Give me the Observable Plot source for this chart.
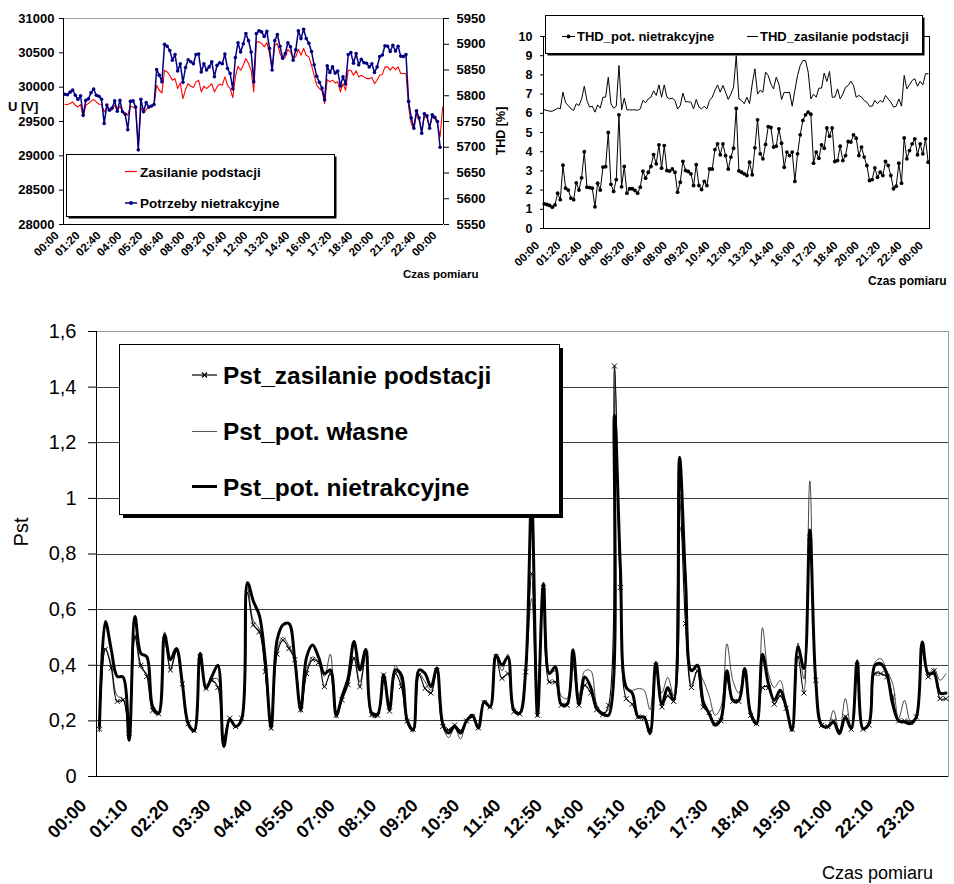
<!DOCTYPE html>
<html><head><meta charset="utf-8">
<script src="https://cdn.jsdelivr.net/npm/d3@7"></script>
<script src="https://cdn.jsdelivr.net/npm/@observablehq/plot@0.6"></script>
<style>
body{margin:0;background:#fff;}
#root{position:relative;width:954px;height:884px;overflow:hidden;background:#fff;font-family:"Liberation Sans",Arial,sans-serif;}
.panel{position:absolute;}
.panel svg{display:block;}
</style></head><body><div id="root"></div>
<script>
const FONT = '"Liberation Sans", Arial, sans-serif';

// ---------- tick labels ----------
const topTickLabels = ["00:00","01:20","02:40","04:00","05:20","06:40","08:00","09:20","10:40","12:00","13:20","14:40","16:00","17:20","18:40","20:00","21:20","22:40","00:00"];
const botTickLabels = ["00:00","01:10","02:20","03:30","04:40","05:50","07:00","08:10","09:20","10:30","11:40","12:50","14:00","15:10","16:20","17:30","18:40","19:50","21:00","22:10","23:20"];
const leftTicks = [28000,28500,29000,29500,30000,30500,31000];
const rightTicks = [5550,5600,5650,5700,5750,5800,5850,5900,5950];
const thdTicks = [0,1,2,3,4,5,6,7,8,9,10];
const pstTicks = [0,0.2,0.4,0.6,0.8,1,1.2,1.4,1.6];

// ---------- top-left: napięcie U [V], co 10 min ----------
const zasilanieU = [
29751,29746,29761,29785,29736,29712,29746,29566,29736,29761,
29800,29819,29785,29751,29751,29639,29702,29664,29673,29736,
29654,29722,29639,29625,29591,29722,29712,29688,29129,29702,
29625,29673,29712,29712,29736,30028,29955,29916,30247,30222,
30174,30101,30125,29979,30062,29834,29965,30052,30013,29994,
30077,30101,29931,30013,29979,30013,30052,29931,30004,30043,
30028,30150,30028,29979,29848,30150,30305,30247,30320,30417,
30344,30247,29931,
30660,30660,30636,30587,30650,30490,30247,30611,30636,30490,
30402,30441,30548,30514,30417,30441,30548,30465,30563,30465,
30441,30320,30174,30028,29979,29945,29761,30111,30077,30101,
30062,30077,29931,30052,29955,30247,30247,30174,30237,30150,
30174,30150,30125,30125,30140,30052,30101,30174,30188,30295,
30295,30247,30295,30256,30295,30198,30198,30198,29712,29469,
29382,29615,29518,29372,29566,29557,29420,29566,29542,29469,
29275,29712];
const potrzebyU = [
5803,5802,5807,5811,5801,5793,5800,5762,5791,5794,
5806,5813,5801,5799,5793,5746,5782,5772,5776,5790,
5770,5791,5769,5764,5734,5789,5790,5778,5695,5793,
5769,5787,5778,5780,5783,5851,5840,5827,5900,5896,
5888,5869,5880,5848,5862,5826,5855,5870,5866,5862,
5880,5881,5846,5862,5850,5856,5866,5837,5859,5864,
5862,5881,5853,5843,5813,5874,5903,5885,5901,5921,
5907,5885,5827,
5921,5926,5924,5915,5925,5892,5850,5907,5919,5896,
5873,5882,5903,5895,5869,5889,5926,5911,5929,5911,
5902,5886,5860,5838,5826,5815,5792,5858,5845,5856,
5844,5848,5819,5837,5823,5880,5884,5863,5882,5860,
5871,5864,5863,5856,5862,5845,5856,5876,5879,5897,
5896,5886,5898,5887,5896,5877,5876,5880,5789,5757,
5737,5771,5757,5727,5765,5761,5737,5763,5758,5750,
5700,null];

// ---------- top-right: THD [%] ----------
const thdNietrakcyjne = [
1.28,1.25,1.2,1.11,1.23,1.84,1.5,3.3,2.1,2.0,
1.58,1.5,2.38,2.0,2.64,4.0,2.15,2.13,2.1,1.13,
2.36,2.0,3.2,3.22,5.0,2.3,1.93,2.55,5.92,2.17,
3.23,1.84,2.07,2.07,1.98,1.84,2.15,2.99,2.62,2.93,
3.23,3.85,3.37,4.36,3.14,4.32,3.02,2.99,3.1,2.93,
1.89,2.41,3.5,3.02,2.97,2.85,2.24,3.32,2.24,2.03,
2.45,2.24,3.1,3.1,4.11,4.41,3.84,4.41,3.8,3.1,
3.72,4.18,6.25,
3.0,2.93,2.85,2.76,3.45,2.8,4.2,5.66,3.89,3.63,
4.38,5.31,5.26,4.24,4.29,5.19,4.44,3.19,3.98,3.8,
3.98,2.45,3.89,4.88,5.63,5.92,6.06,5.95,3.4,3.98,
3.66,4.36,4.18,5.24,4.81,5.24,3.49,3.54,4.29,3.54,
3.8,4.53,4.5,4.88,4.7,3.8,4.24,3.72,3.28,2.5,
2.55,3.16,2.67,2.93,2.76,3.49,3.28,2.76,2.07,2.2,
3.4,2.36,4.72,3.63,4.06,4.41,4.67,3.84,4.41,3.89,
4.67,3.45];
const thdZasilanie = [
6.18,6.15,6.11,6.11,6.18,6.27,6.23,7.1,6.55,6.4,
6.23,6.15,6.5,6.4,6.75,7.41,6.67,6.32,6.37,6.06,
6.44,6.27,6.84,6.84,7.88,6.5,6.27,6.37,8.49,6.18,
6.79,6.18,6.18,6.18,6.18,6.15,6.23,6.67,6.55,6.75,
6.84,7.17,6.93,7.48,6.84,7.48,6.84,6.75,6.79,6.67,
6.23,6.4,7.05,6.6,6.6,6.58,6.23,6.72,6.32,6.23,
6.37,6.23,6.67,6.84,7.19,7.48,7.1,7.45,7.1,6.72,
7.0,7.36,9.0,
6.75,6.67,6.5,6.84,6.5,7.53,8.32,7.0,7.2,7.1,
8.14,7.97,7.53,7.27,7.88,7.53,6.72,7.1,7.07,7.1,
6.37,7.2,7.97,8.49,8.75,8.75,8.14,6.75,7.0,6.84,
7.31,7.31,8.1,7.66,8.18,6.84,6.84,7.27,6.75,7.0,
7.36,7.45,7.67,7.45,6.84,6.93,6.84,6.67,6.58,6.37,
6.37,6.67,6.5,6.67,6.58,6.93,6.75,6.58,6.32,6.37,
6.75,6.37,7.97,7.27,7.48,7.71,7.8,7.41,7.66,7.48,
8.06,8.06];

// ---------- bottom: Pst ----------
const pstZasilanie = [
0.17,0.457,0.39,0.27,0.275,0.155,0.50,0.40,0.36,0.237,
0.225,0.49,0.383,0.45,0.333,0.19,0.165,0.43,0.317,0.345,
0.32,0.14,0.21,0.18,0.21,0.66,0.545,0.52,0.377,0.174,
0.44,0.49,0.46,0.42,0.24,0.37,0.42,0.41,0.323,0.37,
0.22,0.275,0.33,0.425,0.323,0.44,0.222,0.22,0.365,0.235,
0.37,0.323,0.2,0.17,0.365,0.317,0.30,0.38,0.18,0.168,
0.185,0.165,0.2,0.215,0.175,0.265,0.25,0.43,0.353,0.37,
0.233,0.225,0.376,0.73,0.22,0.68,0.34,0.34,0.256,0.256,
0.40,0.256,0.328,0.30,0.24,0.222,0.256,1.476,0.68,0.28,
0.26,0.214,0.21,0.17,0.40,0.25,0.29,0.27,1.006,0.55,
0.32,0.38,0.25,0.23,0.19,0.2,0.35,0.27,0.27,0.37,
0.22,0.19,0.32,0.32,0.26,0.29,0.245,0.17,0.43,0.30,
0.86,0.346,0.184,0.18,0.2,0.165,0.215,0.17,0.40,0.17,
0.185,0.37,0.37,0.358,0.286,0.2,0.2,0.195,0.214,0.45,
0.358,0.38,0.28,0.28];
const pstWlasne = [
0.16,0.46,0.40,0.29,0.28,0.14,0.51,0.39,0.37,0.245,
0.23,0.52,0.39,0.45,0.33,0.18,0.16,0.44,0.33,0.35,
0.35,0.12,0.2,0.18,0.2,0.68,0.56,0.53,0.38,0.17,
0.45,0.50,0.47,0.42,0.23,0.38,0.43,0.41,0.36,0.44,
0.21,0.28,0.34,0.43,0.34,0.44,0.215,0.215,0.37,0.24,
0.40,0.34,0.19,0.16,0.37,0.34,0.31,0.38,0.18,0.14,
0.175,0.135,0.2,0.215,0.175,0.265,0.25,0.43,0.38,0.44,
0.23,0.225,0.37,0.64,0.22,0.68,0.37,0.38,0.29,0.28,
0.43,0.29,0.38,0.38,0.26,0.23,0.24,1.476,0.66,0.32,
0.31,0.316,0.31,0.24,0.40,0.30,0.357,0.29,0.90,0.74,
0.33,0.38,0.345,0.29,0.22,0.25,0.477,0.345,0.30,0.38,
0.24,0.2,0.535,0.37,0.32,0.345,0.25,0.17,0.48,0.35,
1.063,0.34,0.19,0.18,0.238,0.16,0.28,0.17,0.40,0.17,
0.19,0.41,0.424,0.38,0.334,0.208,0.274,0.2,0.22,0.47,
0.37,0.388,0.346,0.37];
const pstNietrakcyjne = [
0.18,0.557,0.455,0.36,0.357,0.13,0.575,0.443,0.43,0.25,
0.228,0.51,0.42,0.46,0.335,0.19,0.165,0.443,0.317,0.36,
0.40,0.108,0.206,0.18,0.204,0.697,0.63,0.58,0.42,0.174,
0.49,0.545,0.55,0.42,0.24,0.43,0.473,0.43,0.37,0.383,
0.22,0.29,0.353,0.485,0.383,0.457,0.228,0.225,0.365,0.24,
0.383,0.365,0.2,0.168,0.383,0.37,0.323,0.39,0.19,0.156,
0.18,0.156,0.2,0.22,0.174,0.27,0.25,0.437,0.40,0.43,
0.24,0.228,0.38,1.0,0.22,0.694,0.37,0.394,0.26,0.26,
0.456,0.26,0.358,0.32,0.244,0.226,0.22,1.30,0.75,0.32,
0.30,0.214,0.214,0.154,0.41,0.26,0.32,0.274,1.148,0.706,
0.38,0.40,0.268,0.226,0.184,0.208,0.38,0.274,0.274,0.388,
0.226,0.19,0.44,0.334,0.274,0.31,0.25,0.166,0.466,0.388,
0.886,0.346,0.184,0.178,0.196,0.154,0.214,0.172,0.415,0.172,
0.19,0.40,0.406,0.37,0.26,0.2,0.196,0.19,0.214,0.484,
0.37,0.37,0.30,0.30];

// ---------- helpers ----------
const root = document.getElementById("root");
function place(node, left, top, z) {
  const d = document.createElement("div");
  d.className = "panel";
  d.style.left = left + "px"; d.style.top = top + "px";
  if (z) d.style.zIndex = z;
  d.appendChild(node);
  root.appendChild(d);
}
const baseStyle = {fontFamily: FONT, color: "#000", background: "transparent", overflow: "visible"};
const X = (d, i) => i;
const Y = d => d;
const topTickIdx = topTickLabels.map((_, k) => k * 8);
const botTickIdx = botTickLabels.map((_, k) => k * 7);

// ---------- top-left: red on left axis ----------
const tl1 = Plot.plot({
  width: 480, height: 290, marginLeft: 63, marginRight: 37, marginTop: 18, marginBottom: 66,
  style: baseStyle,
  x: {domain: [-0.5, 144.3]},
  y: {domain: [28000, 31000]},
  marks: [
    Plot.ruleY([31000], {stroke: "#a0a0a0"}),
    Plot.ruleY([28000], {stroke: "#000"}),
    Plot.ruleX([-0.5], {stroke: "#000"}),
    Plot.axisY({ticks: leftTicks, tickSize: 4, tickPadding: 5, tickFormat: d => String(d), fontSize: 13, fontWeight: "bold", label: null}),
    Plot.axisX({ticks: topTickIdx, tickFormat: d => topTickLabels[d / 8], tickRotate: -45, tickSize: 0, tickPadding: 9, dx: -8, fontSize: 11.5, fontWeight: "bold", label: null}),
    Plot.line(zasilanieU, {x: X, y: Y, stroke: "#ff0000", strokeWidth: 1.1})
  ]
});
place(tl1, 0, 0, 1);

// ---------- top-left: blue on right axis ----------
const tl2 = Plot.plot({
  width: 480, height: 290, marginLeft: 63, marginRight: 37, marginTop: 18, marginBottom: 66,
  style: baseStyle,
  x: {domain: [-0.5, 144.3], axis: null},
  y: {domain: [5550, 5950]},
  marks: [
    Plot.ruleX([144.3], {stroke: "#000"}),
    Plot.axisY({anchor: "right", ticks: rightTicks, tickSize: 5, tickPadding: 8, tickFormat: d => String(d), fontSize: 13, fontWeight: "bold", label: null}),
    Plot.line(potrzebyU, {x: X, y: Y, stroke: "#000080", strokeWidth: 1.5}),
    Plot.dot(potrzebyU, {x: X, y: Y, r: 1.8, fill: "#000080", stroke: "none"})
  ]
});
place(tl2, 0, 0, 2);

// ---------- top-right: THD ----------
const tr = Plot.plot({
  width: 474, height: 290, marginLeft: 63, marginRight: 25, marginTop: 36, marginBottom: 62,
  style: baseStyle,
  x: {domain: [-0.3, 144.5]},
  y: {domain: [0, 10]},
  marks: [
    Plot.frame({stroke: "#000"}),
    Plot.axisY({ticks: thdTicks, tickSize: 3, tickPadding: 8, fontSize: 12.5, fontWeight: "bold", label: null}),
    Plot.axisX({ticks: topTickIdx, tickFormat: d => topTickLabels[d / 8], tickRotate: -45, tickSize: 0, tickPadding: 15, dx: -7, fontSize: 11.5, fontWeight: "bold", label: null}),
    Plot.line(thdZasilanie, {x: X, y: Y, stroke: "#000", strokeWidth: 1}),
    Plot.line(thdNietrakcyjne, {x: X, y: Y, stroke: "#000", strokeWidth: 1}),
    Plot.dot(thdNietrakcyjne, {x: X, y: Y, r: 1.9, fill: "#000", stroke: "none"})
  ]
});
place(tr, 480, 0, 1);

// ---------- bottom: Pst ----------
const pstFmt = d => String(+d.toFixed(1)).replace(".", ",");
const bot = Plot.plot({
  width: 954, height: 584, marginLeft: 96, marginRight: 6, marginTop: 31, marginBottom: 108,
  style: baseStyle,
  x: {domain: [-0.5, 143.43]},
  y: {domain: [0, 1.6]},
  marks: [
    Plot.ruleY(pstTicks.filter(d => d > 0 && d < 1.6), {stroke: "#3c3c3c", shapeRendering: "crispEdges"}),
    Plot.frame({stroke: "#9a9a9a", shapeRendering: "crispEdges"}),
    Plot.ruleX([-0.5], {stroke: "#000", shapeRendering: "crispEdges"}),
    Plot.ruleY([0], {stroke: "#000", shapeRendering: "crispEdges"}),
    Plot.axisY({ticks: pstTicks, tickSize: 8, tickPadding: 12, tickFormat: pstFmt, fontSize: 20, label: null}),
    Plot.axisX({ticks: botTickIdx, tickFormat: d => botTickLabels[d / 7], tickRotate: -45, tickSize: 0, tickPadding: 26, dx: -16, fontSize: 18, fontWeight: "bold", label: null}),
    Plot.line(pstWlasne, {x: X, y: Y, stroke: "#333", strokeWidth: 0.9, curve: "catmull-rom"}),
    Plot.line(pstZasilanie, {x: X, y: Y, stroke: "#000", strokeWidth: 1.1, curve: "catmull-rom"}),
    Plot.line(pstNietrakcyjne, {x: X, y: Y, stroke: "#000", strokeWidth: 3, curve: "catmull-rom"}),
    Plot.dot(pstZasilanie, {x: X, y: Y, r: 2.4, symbol: "times", stroke: "#000", strokeWidth: 1})
  ]
});
place(bot, 0, 300, 1);

// ---------- overlay: legends and axis titles ----------
const NS = "http://www.w3.org/2000/svg";
const ov = document.createElementNS(NS, "svg");
ov.setAttribute("width", 954); ov.setAttribute("height", 884);
ov.style.fontFamily = FONT;
function el(tag, attrs, text) {
  const e = document.createElementNS(NS, tag);
  for (const k in attrs) e.setAttribute(k, attrs[k]);
  if (text != null) e.textContent = text;
  ov.appendChild(e);
  return e;
}
function box(x, y, w, h, sh) {
  el("rect", {x: x + sh, y: y + sh, width: w, height: h, fill: "#000"});
  el("rect", {x: x, y: y, width: w, height: h, fill: "#fff", stroke: "#000", "stroke-width": 1});
}
// top-left legend
box(66.5, 154.5, 268, 62, 2);
el("line", {x1: 125, x2: 137, y1: 171.5, y2: 171.5, stroke: "#ff0000", "stroke-width": 1.2});
el("text", {x: 140, y: 176.5, "font-size": 13.5, "font-weight": "bold"}, "Zasilanie podstacji");
el("line", {x1: 125, x2: 137, y1: 203, y2: 203, stroke: "#000080", "stroke-width": 1.5});
el("circle", {cx: 131, cy: 203, r: 1.9, fill: "#000080"});
el("text", {x: 140, y: 208, "font-size": 13.5, "font-weight": "bold"}, "Potrzeby nietrakcyjne");
// top-left titles
el("text", {x: 8, y: 111, "font-size": 13, "font-weight": "bold"}, "U [V]");
el("text", {x: 403, y: 278, "font-size": 11.5, "font-weight": "bold"}, "Czas pomiaru");
// top-right legend
box(545.5, 15.5, 377, 38, 2);
el("line", {x1: 562, x2: 575, y1: 36.5, y2: 36.5, stroke: "#000", "stroke-width": 1});
el("circle", {cx: 568.5, cy: 36.5, r: 1.9, fill: "#000"});
el("text", {x: 577, y: 41, "font-size": 13, "font-weight": "bold"}, "THD_pot. nietrakcyjne");
el("line", {x1: 747, x2: 758, y1: 36.5, y2: 36.5, stroke: "#000", "stroke-width": 1});
el("text", {x: 760, y: 41, "font-size": 13, "font-weight": "bold"}, "THD_zasilanie podstacji");
el("text", {x: 0, y: 0, "font-size": 12.5, "font-weight": "bold", "text-anchor": "middle", transform: "translate(505,131) rotate(-90)"}, "THD [%]");
el("text", {x: 868, y: 285, "font-size": 12, "font-weight": "bold"}, "Czas pomiaru");
// bottom legend
box(119.5, 344.5, 440, 170, 3.5);
el("line", {x1: 192, x2: 217, y1: 375, y2: 375, stroke: "#000", "stroke-width": 1.2});
el("path", {d: "M202,372.5L207,377.5M202,377.5L207,372.5", stroke: "#000", "stroke-width": 1.2});
el("text", {x: 223, y: 383.5, "font-size": 24.5, "font-weight": "bold"}, "Pst_zasilanie podstacji");
el("line", {x1: 192, x2: 217, y1: 431.5, y2: 431.5, stroke: "#555", "stroke-width": 1});
el("text", {x: 223, y: 440, "font-size": 24.5, "font-weight": "bold"}, "Pst_pot. własne");
el("line", {x1: 192, x2: 217, y1: 486.5, y2: 486.5, stroke: "#000", "stroke-width": 3});
el("text", {x: 223, y: 495.5, "font-size": 24.5, "font-weight": "bold"}, "Pst_pot. nietrakcyjne");
// bottom titles
el("text", {x: 0, y: 0, "font-size": 20, "text-anchor": "middle", transform: "translate(28,532) rotate(-90)"}, "Pst");
el("text", {x: 822, y: 879, "font-size": 18}, "Czas pomiaru");
place(ov, 0, 0, 5);
</script></body></html>
